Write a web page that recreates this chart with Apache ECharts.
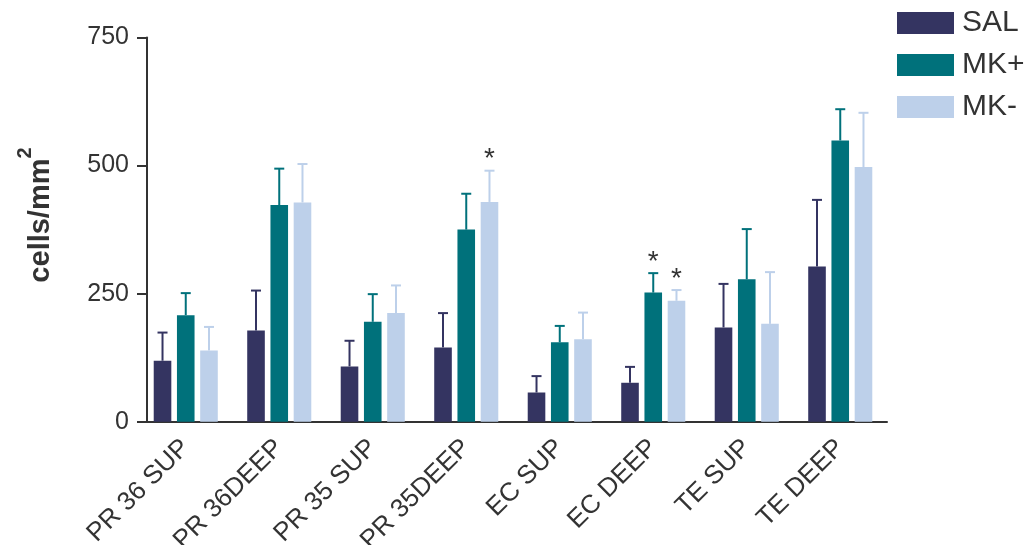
<!DOCTYPE html>
<html>
<head>
<meta charset="utf-8">
<script src="https://cdn.jsdelivr.net/npm/echarts@6/dist/echarts.min.js"></script>
<style>
  html, body { margin: 0; padding: 0; background: #fff; }
  #chart { width: 1026px; height: 545px; }
</style>
</head>
<body>
<div id="chart"></div>
<script>
// Regions and layers
const categories = ['PR 36 SUP', 'PR 36DEEP', 'PR 35 SUP', 'PR 35DEEP', 'EC SUP', 'EC DEEP', 'TE SUP', 'TE DEEP'];
const seriesNames = ['SAL', 'MK+', 'MK-'];

// Mean cell density (cells/mm²) per group
const salMean = [119, 178, 108, 145, 57, 76, 184, 303];
const mkPlusMean = [208, 423, 195, 375, 155, 252, 278, 549];
const mkMinusMean = [139, 428, 212, 429, 161, 236, 191, 497];

// Upper error (SEM) per group
const salErr = [55, 78, 50, 67, 32, 31, 85, 130];
const mkPlusErr = [43, 71, 54, 70, 32, 38, 98, 61];
const mkMinusErr = [46, 75, 54, 61, 52, 21, 101, 106];

// Significance markers (1 = starred)
const salSig = [0, 0, 0, 0, 0, 0, 0, 0];
const mkPlusSig = [0, 0, 0, 0, 0, 1, 0, 0];
const mkMinusSig = [0, 0, 0, 1, 0, 1, 0, 0];

// Y axis ticks
const yTicks = [0, 250, 500, 750];

const colors = ['#343461', '#00717b', '#bdd0ea'];
const TEXT = '#333333';
const FONT = '"Liberation Sans", Arial, Helvetica, sans-serif';

const BAR_W = 17.6;
const BAR_GAP = 0.32; // fraction of bar width between bars in a group

const means = [salMean, mkPlusMean, mkMinusMean];
const errs = [salErr, mkPlusErr, mkMinusErr];
const sigs = [salSig, mkPlusSig, mkMinusSig];

const chart = echarts.init(document.getElementById('chart'), null, { renderer: 'canvas' });

function errorSeries(k) {
  const offset = (k - 1) * BAR_W * (1 + BAR_GAP);
  return {
    type: 'custom',
    name: seriesNames[k] + ' error',
    z: 3,
    silent: true,
    data: categories.map((c, i) => [i, means[k][i], errs[k][i], sigs[k][i]]),
    renderItem: function (params, api) {
      const idx = api.value(0);
      const m = api.value(1);
      const e = api.value(2);
      const s = api.value(3);
      const p0 = api.coord([idx, m]);
      const p1 = api.coord([idx, m + e]);
      const x = p0[0] + offset;
      const style = { stroke: colors[k], lineWidth: 2 };
      const children = [
        { type: 'line', shape: { x1: x, y1: p0[1], x2: x, y2: p1[1] }, style: style },
        { type: 'line', shape: { x1: x - 5, y1: p1[1], x2: x + 5, y2: p1[1] }, style: style }
      ];
      if (s) {
        children.push({
          type: 'text',
          style: {
            text: '*', x: x, y: p1[1] - 11,
            textAlign: 'center', textVerticalAlign: 'middle',
            font: '28px ' + FONT, fill: TEXT
          }
        });
      }
      return { type: 'group', children: children };
    }
  };
}

const barSeries = seriesNames.map((name, k) => ({
  type: 'bar',
  name: name,
  data: means[k],
  barWidth: BAR_W,
  barGap: (BAR_GAP * 100) + '%',
  itemStyle: { color: colors[k] },
  z: 2
}));

chart.setOption({
  animation: false,
  textStyle: { fontFamily: FONT },
  grid: { left: 139, right: 139, top: 37.5, bottom: 123.3, containLabel: false, outerBoundsMode: 'none' },
  legend: {
    data: seriesNames,
    orient: 'vertical',
    left: 897,
    top: 8,
    padding: 0,
    itemWidth: 57,
    itemHeight: 22,
    itemGap: 12,
    icon: 'rect',
    textStyle: { fontSize: 30, color: TEXT, fontFamily: FONT, padding: [0, 0, 0, 3] }
  },
  xAxis: {
    type: 'category',
    data: categories,
    axisLine: { lineStyle: { color: TEXT, width: 2 } },
    axisTick: { show: false },
    axisLabel: { rotate: 45, fontSize: 26, color: TEXT, margin: 22, fontFamily: FONT, interval: 0 }
  },
  yAxis: {
    type: 'value',
    min: yTicks[0],
    max: yTicks[yTicks.length - 1],
    interval: yTicks[1] - yTicks[0],
    offset: -8,
    splitLine: { show: false },
    axisLine: { show: true, lineStyle: { color: TEXT, width: 2 } },
    axisTick: { show: true, length: 10, lineStyle: { color: TEXT, width: 2 } },
    axisLabel: { fontSize: 25, color: TEXT, margin: 18, fontFamily: FONT }
  },
  graphic: [{
    type: 'text',
    x: 35,
    y: 215,
    rotation: Math.PI / 2,
    style: {
      text: '{a|cells/mm}{b|2}',
      textAlign: 'center',
      textVerticalAlign: 'middle',
      fill: TEXT,
      rich: {
        a: { fontSize: 29, fontWeight: 'bold', fontFamily: FONT, fill: TEXT, verticalAlign: 'bottom' },
        b: { fontSize: 20, fontWeight: 'bold', fontFamily: FONT, fill: TEXT, verticalAlign: 'bottom', padding: [0, 0, 20, 0] }
      }
    }
  }],
  series: barSeries.concat([0, 1, 2].map(errorSeries))
});
</script>
</body>
</html>
